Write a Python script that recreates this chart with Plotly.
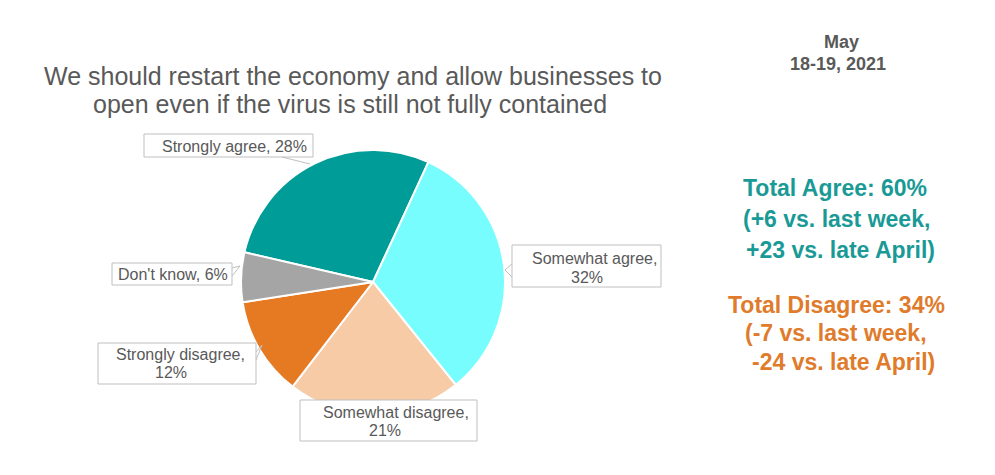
import plotly.graph_objects as go

# ---- data ----
categories = ["Strongly agree", "Somewhat agree", "Somewhat disagree", "Strongly disagree", "Don't know"]
values = [28, 32, 21, 12, 6]
colors = ["#009C98", "#77FDFD", "#F6CBA6", "#E57A23", "#A5A5A5"]

title_lines = ["We should restart the economy and allow businesses to",
               "open even if the virus is still not fully contained"]
date_lines = ["May", "18-19, 2021"]
agree_lines = ["Total Agree: 60%", "(+6 vs. last week,", "+23 vs. late April)"]
disagree_lines = ["Total Disagree: 34%", "(-7 vs. last week,", "-24 vs. late April)"]

W, H = 995, 475
OFF = 8  # page body margin


def px(x):
    return (x - OFF) / W


def py(y):
    return 1 - (y - OFF) / H


FONT = "Liberation Sans, Arial, sans-serif"
GREY = "#595959"
BOXLINE = "#BFBFBF"

fig = go.Figure()
cx, cy, r = 373, 282, 132
fig.add_trace(go.Pie(
    labels=categories,
    values=values,
    sort=False,
    direction="clockwise",
    rotation=-77,
    marker=dict(colors=colors, line=dict(color="white", width=2)),
    textinfo="none",
    showlegend=False,
    domain=dict(x=[px(cx - r), px(cx + r)], y=[py(cy + r), py(cy - r)]),
))

annotations = []
shapes = []


def text_at(x, y, s, size, color, bold=False):
    if bold:
        s = "<b>" + s + "</b>"
    annotations.append(dict(
        x=px(x), y=py(y), xref="paper", yref="paper", text=s, showarrow=False,
        xanchor="center", yanchor="middle",
        font=dict(family=FONT, size=size, color=color),
    ))


def leader(points):
    path = "M " + " L ".join(f"{px(x)},{py(y)}" for x, y in points)
    shapes.append(dict(type="path", xref="paper", yref="paper", path=path,
                       line=dict(color=BOXLINE, width=1), layer="above"))


# title
for s, (x, y) in zip(title_lines, [(353, 76), (350, 104)]):
    text_at(x, y, s, 25, GREY)

# date
for s, (x, y) in zip(date_lines, [(841, 42), (838, 64)]):
    text_at(x, y, s, 18, GREY, bold=True)

# totals
for s, (x, y) in zip(agree_lines, [(835, 188), (836, 219), (840, 250)]):
    text_at(x, y, s, 23, "#1A9A96", bold=True)
for s, (x, y) in zip(disagree_lines, [(836, 305), (836, 333), (843, 362)]):
    text_at(x, y, s, 23, "#E07B2B", bold=True)

# slice label boxes: (category index, box, line positions)
label_boxes = [
    (0, (144, 134, 313, 157), [(234, 146)]),
    (1, (512, 245, 661, 287), [(594, 258), (587, 277)]),
    (4, (112, 263, 232, 285), [(173, 274)]),
    (3, (98, 343, 256, 384), [(180, 354), (171, 372)]),
    (2, (300, 400, 477, 441), [(396, 412), (385, 430)]),
]
for idx, (x0, y0, x1, y1), pos in label_boxes:
    name = categories[idx]
    pct = f"{values[idx]}%"
    lines = [f"{name}, {pct}"] if len(pos) == 1 else [f"{name},", pct]
    shapes.append(dict(
        type="rect", xref="paper", yref="paper",
        x0=px(x0), x1=px(x1), y0=py(y1), y1=py(y0),
        line=dict(color=BOXLINE, width=1), fillcolor="white", layer="above",
    ))
    for s, (x, y) in zip(lines, pos):
        text_at(x, y, s, 16, GREY)

# callout pointers
leader([(282, 157), (310, 164)])
leader([(512, 264), (505, 270), (512, 277)])
leader([(232, 268), (240, 266), (232, 276)])
leader([(256, 352), (262, 345), (256, 360)])

fig.update_layout(
    width=W, height=H,
    margin=dict(l=0, r=0, t=0, b=0),
    paper_bgcolor="white", plot_bgcolor="white",
    annotations=annotations, shapes=shapes,
)

fig.write_html("out.html")
